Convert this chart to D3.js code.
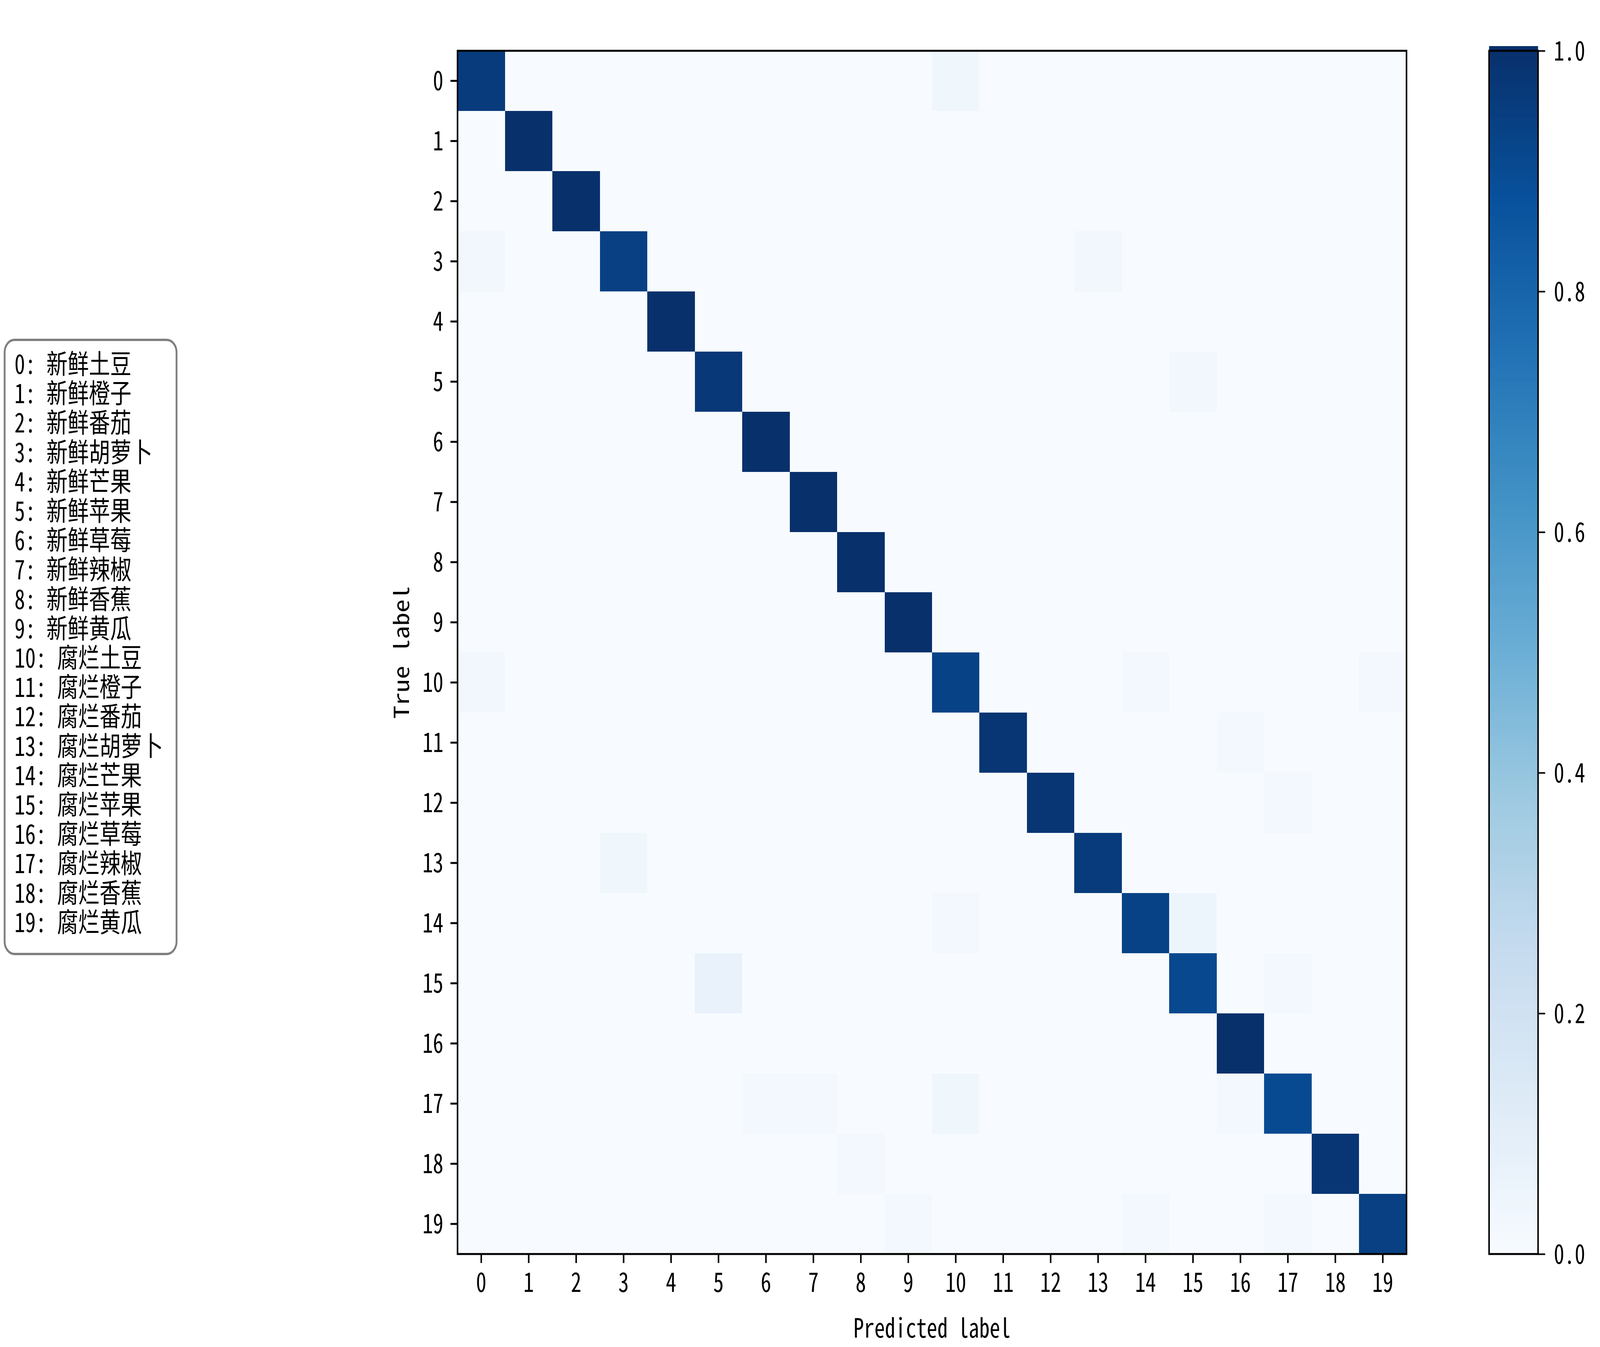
<!DOCTYPE html>
<html lang="zh">
<head>
<meta charset="utf-8">
<title>Confusion matrix</title>
<script src="https://cdn.jsdelivr.net/npm/d3@7"></script>
<style>
  html, body { margin: 0; padding: 0; overflow: hidden; background: #fff; }
  svg { display: block; background: #fff; width: 100vw; height: 100vh; }
  text {
    font-family: "Noto Sans Mono CJK SC", "Noto Sans CJK SC", sans-serif;
    font-size: 68px;
    fill: #000;
  }
  .names text { font-size: 69px; }
</style>
</head>
<body>
<div id="chart"></div>
<script>
// class names shown in the box on the left
const classNames = [
  "新鲜土豆", "新鲜橙子", "新鲜番茄", "新鲜胡萝卜", "新鲜芒果",
  "新鲜苹果", "新鲜草莓", "新鲜辣椒", "新鲜香蕉", "新鲜黄瓜",
  "腐烂土豆", "腐烂橙子", "腐烂番茄", "腐烂胡萝卜", "腐烂芒果",
  "腐烂苹果", "腐烂草莓", "腐烂辣椒", "腐烂香蕉", "腐烂黄瓜"
];
const tickLabels = ["0","1","2","3","4","5","6","7","8","9",
                    "10","11","12","13","14","15","16","17","18","19"];
const cbarTicks = [0.0, 0.2, 0.4, 0.6, 0.8, 1.0];

// normalised confusion matrix, one row per true label
const matrix = [
  [0.96,0,0,0,0,0,0,0,0,0,0.04,0,0,0,0,0,0,0,0,0],
  [0,1,0,0,0,0,0,0,0,0,0,0,0,0,0,0,0,0,0,0],
  [0,0,1,0,0,0,0,0,0,0,0,0,0,0,0,0,0,0,0,0],
  [0.03,0,0,0.94,0,0,0,0,0,0,0,0,0,0.03,0,0,0,0,0,0],
  [0,0,0,0,1,0,0,0,0,0,0,0,0,0,0,0,0,0,0,0],
  [0,0,0,0,0,0.97,0,0,0,0,0,0,0,0,0,0.03,0,0,0,0],
  [0,0,0,0,0,0,1,0,0,0,0,0,0,0,0,0,0,0,0,0],
  [0,0,0,0,0,0,0,1,0,0,0,0,0,0,0,0,0,0,0,0],
  [0,0,0,0,0,0,0,0,1,0,0,0,0,0,0,0,0,0,0,0],
  [0,0,0,0,0,0,0,0,0,1,0,0,0,0,0,0,0,0,0,0],
  [0.03,0,0,0,0,0,0,0,0,0,0.93,0,0,0,0.02,0,0,0,0,0.02],
  [0,0,0,0,0,0,0,0,0,0,0,0.98,0,0,0,0,0.02,0,0,0],
  [0,0,0,0,0,0,0,0,0,0,0,0,0.98,0,0,0,0,0.02,0,0],
  [0,0,0,0.04,0,0,0,0,0,0,0,0,0,0.96,0,0,0,0,0,0],
  [0,0,0,0,0,0,0,0,0,0,0.02,0,0,0,0.93,0.05,0,0,0,0],
  [0,0,0,0,0,0.07,0,0,0,0,0,0,0,0,0,0.91,0,0.02,0,0],
  [0,0,0,0,0,0,0,0,0,0,0,0,0,0,0,0,1,0,0,0],
  [0,0,0,0,0,0,0.02,0.02,0,0,0.04,0,0,0,0,0,0.02,0.90,0,0],
  [0,0,0,0,0,0,0,0,0.02,0,0,0,0,0,0,0,0,0,0.98,0],
  [0,0,0,0,0,0,0,0,0,0.02,0,0,0,0,0.02,0,0,0.02,0,0.94]
];

const W = 5193, H = 3448;
const plot = {x0: 1485, y0: 130, size: 3080};
const cbar = {x0: 4833, x1: 4992};

// the browser window is narrower than the figure, so the drawing is
// mapped onto the whole viewport
const svg = d3.select("#chart").append("svg")
  .attr("viewBox", `0 0 ${W} ${H}`)
  .attr("preserveAspectRatio", "none");

// matplotlib "Blues" is a linear blend of these nine colours
const blues = d3.scaleLinear()
  .domain(d3.range(9).map(i => i / 8))
  .range(d3.schemeBlues[9])
  .interpolate(d3.interpolateRgb);

const x = d3.scaleBand().domain(tickLabels)
  .range([plot.x0, plot.x0 + plot.size]);
const y = d3.scaleBand().domain(tickLabels)
  .range([plot.y0, plot.y0 + plot.size]);

const cells = [];
matrix.forEach((row, i) => row.forEach((v, j) => cells.push({i, j, v})));

svg.append("g").selectAll("rect")
  .data(cells)
  .join("rect")
  .attr("x", d => x(tickLabels[d.j]))
  .attr("y", d => y(tickLabels[d.i]))
  .attr("width", x.bandwidth() + 0.5)
  .attr("height", y.bandwidth() + 0.5)
  .attr("fill", d => blues(d.v))
  .attr("shape-rendering", "crispEdges");

// axes
const tickLen = 23, tickPad = 23;
const xAxis = svg.append("g")
  .attr("transform", `translate(0,${plot.y0 + plot.size})`)
  .call(d3.axisBottom(x).tickSize(tickLen).tickPadding(tickPad).tickSizeOuter(0));
const yAxis = svg.append("g")
  .attr("transform", `translate(${plot.x0},0)`)
  .call(d3.axisLeft(y).tickSize(tickLen).tickPadding(tickPad).tickSizeOuter(0));
[xAxis, yAxis].forEach(g => {
  g.select(".domain").remove();
  g.selectAll(".tick line").attr("stroke", "#000").attr("stroke-width", 5);
  g.selectAll(".tick text").attr("font-size", null).attr("font-family", null);
});
xAxis.selectAll(".tick text").attr("dy", null).attr("y", 97);
yAxis.selectAll(".tick text").attr("dy", "0.36em");

svg.append("rect")
  .attr("x", plot.x0).attr("y", plot.y0)
  .attr("width", plot.size).attr("height", plot.size)
  .attr("fill", "none").attr("stroke", "#000").attr("stroke-width", 5);

svg.append("text")
  .attr("x", plot.x0 + plot.size / 2).attr("y", 3424)
  .attr("text-anchor", "middle")
  .text("Predicted label");
svg.append("text")
  .attr("transform", `translate(1328,${plot.y0 + plot.size / 2}) rotate(-90)`)
  .attr("text-anchor", "middle")
  .text("True label");

// colour bar
const c = d3.scaleLinear().domain([0, 1])
  .range([plot.y0 + plot.size, plot.y0]);
const steps = d3.range(256).map(k => k / 255);
svg.append("g").selectAll("rect")
  .data(steps)
  .join("rect")
  .attr("x", cbar.x0)
  .attr("y", d => c(d) - plot.size / 256)
  .attr("width", cbar.x1 - cbar.x0)
  .attr("height", plot.size / 256 + 1)
  .attr("fill", d => blues(d));
svg.append("rect")
  .attr("x", cbar.x0).attr("y", plot.y0)
  .attr("width", cbar.x1 - cbar.x0).attr("height", plot.size)
  .attr("fill", "none").attr("stroke", "#000").attr("stroke-width", 5);

const cAxis = svg.append("g")
  .attr("transform", `translate(${cbar.x1},0)`)
  .call(d3.axisRight(c).tickValues(cbarTicks).tickFormat(d3.format(".1f"))
    .tickSize(tickLen).tickPadding(tickPad + 5).tickSizeOuter(0));
cAxis.select(".domain").remove();
cAxis.selectAll(".tick line").attr("stroke", "#000").attr("stroke-width", 4);
cAxis.selectAll(".tick text").attr("font-size", null).attr("font-family", null)
  .attr("dy", "0.36em");

// label box
const box = svg.append("g").attr("class", "names");
box.append("rect")
  .attr("x", 15).attr("y", 870)
  .attr("width", 558).attr("height", 1572)
  .attr("rx", 32).attr("ry", 32)
  .attr("fill", "#fff").attr("stroke", "#7f7f7f").attr("stroke-width", 6);
box.selectAll("text")
  .data(classNames)
  .join("text")
  .attr("x", 47)
  .attr("y", (d, i) => 957 + i * 75.2)
  .attr("xml:space", "preserve")
  .text((d, i) => `${tickLabels[i]}: ${d}`);
</script>
</body>
</html>
